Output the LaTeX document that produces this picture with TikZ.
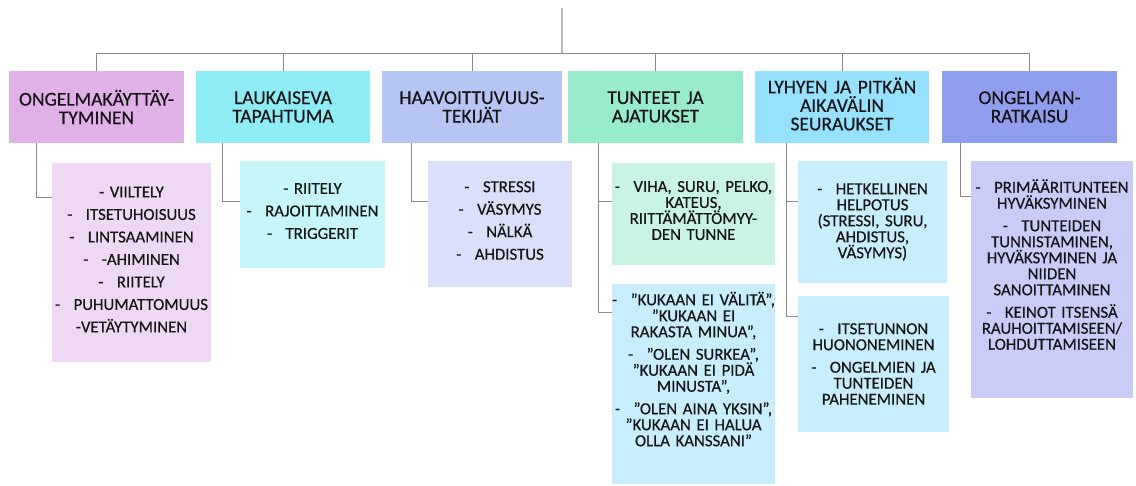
\documentclass[tikz,border=0pt]{standalone}
\usepackage{fontspec}
\setmainfont{Carlito}[FakeBold=0.5]

\definecolor{teksti}{HTML}{161616}
\definecolor{viivaharmaa}{HTML}{8A8A8A}
\definecolor{h1}{HTML}{E0B1E7}
\definecolor{h2}{HTML}{8EECF5}
\definecolor{h3}{HTML}{B7C5F4}
\definecolor{h4}{HTML}{98EBCB}
\definecolor{h5}{HTML}{96E1FD}
\definecolor{h6}{HTML}{919EEF}
\definecolor{c1}{HTML}{EFD8F3}
\definecolor{c2}{HTML}{C6F5FA}
\definecolor{c3}{HTML}{DAE0F9}
\definecolor{c4}{HTML}{C9F3E2}
\definecolor{c5}{HTML}{C8EEFD}
\definecolor{c6}{HTML}{C8CCF7}

\newcommand{\viiva}{-\hspace{0.8em}}
\newcommand{\nosto}[1]{\rule[-#1]{0pt}{0pt}}

\begin{document}
\begin{tikzpicture}[x=1pt,y=-1pt,
    otsikko/.style={inner sep=0pt, text width=#1, minimum height=72pt,
      align=center, text=teksti, font=\fontsize{19.5}{18.5}\selectfont},
    lapsi/.style={inner sep=0pt, text width=#1, align=center,
      text=teksti, font=\fontsize{16.8}{16}\selectfont},
    yhteys/.style={draw=viivaharmaa, line width=0.8pt}]

	\useasboundingbox (0,0) rectangle (1136,486);

	% juuri
	\coordinate (juuri) at (562,8);
	\coordinate (haara) at (562,53);
	\draw[draw=black!28, line width=1.3pt] (juuri) -- (haara);

	% otsikot
	\node[otsikko=175pt, fill=h1] (h1) at (96.5,107) {ONGELMAKÄYTTÄY-\\TYMINEN};
	\node[otsikko=174pt, fill=h2] (h2) at (283,107) {LAUKAISEVA\\TAPAHTUMA};
	\node[otsikko=180pt, fill=h3] (h3) at (472,107) {HAAVOITTUVUUS-\\TEKIJÄT};
	\node[otsikko=175pt, fill=h4] (h4) at (655.5,107) {TUNTEET JA\\AJATUKSET};
	\node[otsikko=174pt, fill=h5] (h5) at (842,107) {LYHYEN JA PITKÄN\\AIKAVÄLIN\\SEURAUKSET\nosto{6pt}};
	\node[otsikko=175pt, fill=h6] (h6) at (1029.5,107) {ONGELMAN-\\RATKAISU};

	\foreach \i in {1,...,6}
		\draw[yhteys] (h\i.north) |- (haara);

	% alalaatikot
	\node[lapsi=159pt, fill=c1, minimum height=199pt] (c1) at (131.5,262.5)
		{-~VIILTELY\\[6.5pt] \viiva ITSETUHOISUUS\\[6.5pt] \viiva LINTSAAMINEN\\[6.5pt]
		 \viiva -AHIMINEN\\[6.5pt] \viiva RIITELY\\[6.5pt] \viiva PUHUMATTOMUUS\\[6.5pt]
		 -VETÄYTYMINEN\nosto{6pt}};
	\node[lapsi=145pt, fill=c2, minimum height=107pt] (c2) at (312.5,214.5)
		{-~RIITELY\\[6.5pt] \viiva RAJOITTAMINEN\\[6.5pt] \viiva TRIGGERIT\nosto{7pt}};
	\node[lapsi=144pt, fill=c3, minimum height=126pt] (c3) at (500,224)
		{\viiva STRESSI\\[6.5pt] \viiva VÄSYMYS\\[6.5pt] \viiva NÄLKÄ\\[6.5pt]
		 \viiva AHDISTUS\nosto{7pt}};
	\node[lapsi=163pt, fill=c4, minimum height=102pt] (c4a) at (693.5,214)
		{\viiva VIHA, SURU, PELKO,\\KATEUS,\\RIITTÄMÄTTÖMYY-\\DEN TUNNE\nosto{7pt}};
	\node[lapsi=163pt, fill=c5, minimum height=200pt] (c4b) at (693.5,384)
		{\viiva ”KUKAAN EI VÄLITÄ”,\\”KUKAAN EI\\RAKASTA MINUA”,\\[6.5pt]
		 \viiva ”OLEN SURKEA”,\\”KUKAAN EI PIDÄ\\MINUSTA”,\\[6.5pt]
		 \viiva ”OLEN AINA YKSIN”,\\”KUKAAN EI HALUA\\OLLA KANSSANI”\nosto{30pt}};
	\node[lapsi=149pt, fill=c5, minimum height=122pt] (c5a) at (872.5,222)
		{\viiva HETKELLINEN\\HELPOTUS\\(STRESSI, SURU,\\AHDISTUS,\\VÄSYMYS)};
	\node[lapsi=151pt, fill=c5, minimum height=136pt] (c5b) at (873.5,364)
		{\viiva ITSETUNNON\\HUONONEMINEN\\[6.5pt] \viiva ONGELMIEN JA\\TUNTEIDEN\\PAHENEMINEN};
	\node[lapsi=162pt, fill=c6, minimum height=237pt] (c6) at (1052,279.5)
		{\viiva PRIMÄÄRITUNTEEN\\HYVÄKSYMINEN\\[6.5pt]
		 \viiva TUNTEIDEN\\TUNNISTAMINEN,\\HYVÄKSYMINEN JA\\NIIDEN\\SANOITTAMINEN\\[6.5pt]
		 \viiva KEINOT ITSENSÄ\\RAUHOITTAMISEEN/\\LOHDUTTAMISEEN\nosto{30pt}};

	% haarat alas
	\draw[yhteys] ([xshift=28pt]h1.south west) |- ([yshift=-35pt]c1.north west);
	\draw[yhteys] ([xshift=27pt]h2.south west) |- ([yshift=-41pt]c2.north west);
	\draw[yhteys] ([xshift=30pt]h3.south west) |- ([yshift=-41pt]c3.north west);
	\draw[yhteys] ([xshift=31pt]h4.south west) |- ([yshift=-39pt]c4a.north west);
	\draw[yhteys] ([xshift=31pt]h4.south west) |- ([yshift=-29pt]c4b.north west);
	\draw[yhteys] ([xshift=32pt]h5.south west) |- ([yshift=-41pt]c5a.north west);
	\draw[yhteys] ([xshift=32pt]h5.south west) |- ([yshift=-21pt]c5b.north west);
	\draw[yhteys] ([xshift=19pt]h6.south west) |- ([yshift=-36pt]c6.north west);

\end{tikzpicture}
\end{document}
